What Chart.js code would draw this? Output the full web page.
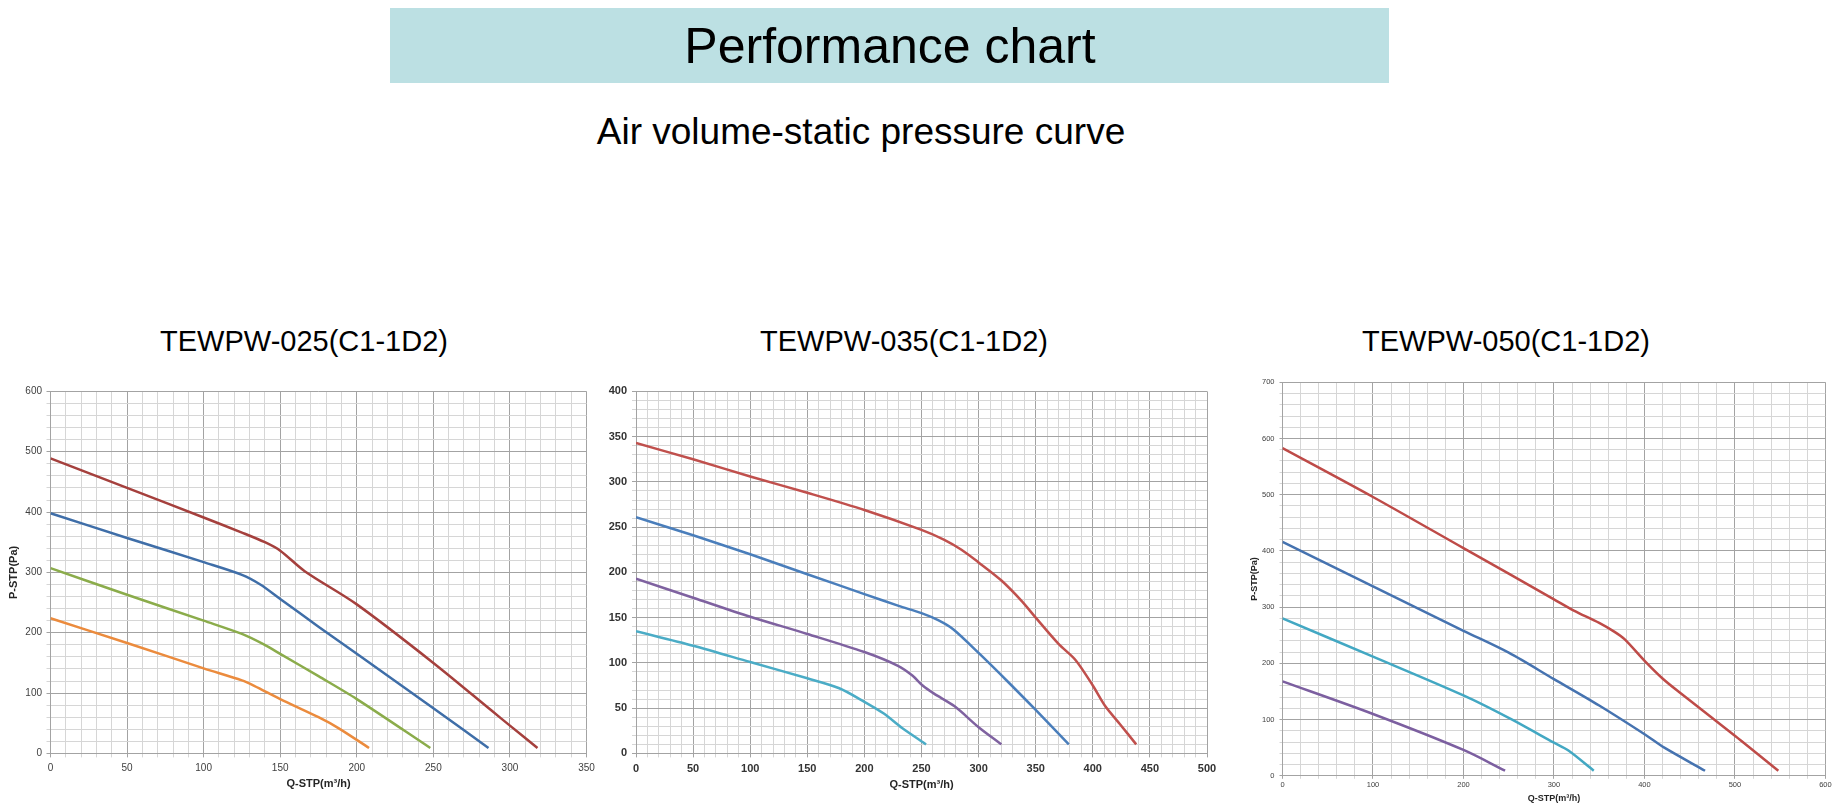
<!DOCTYPE html>
<html lang="en">

<head>
    <meta charset="UTF-8">
    <meta name="viewport" content="width=device-width, initial-scale=1.0">
    <script src="https://cdn.jsdelivr.net/npm/chart.js"></script>
    <title>Performance chart</title>
    <style>
        body {
            margin: 0;
            width: 1843px;
            height: 810px;
            position: relative;
            overflow: hidden;
            background: #fff;
            font-family: "Liberation Sans", Arial, sans-serif;
        }

        .faixa {
            position: absolute;
            left: 390px;
            top: 8px;
            width: 999px;
            height: 75px;
            background: #bce0e3;
        }

        .texto {
            position: absolute;
            width: 700px;
            text-align: center;
            line-height: 1;
            color: #000;
            white-space: nowrap;
        }

        canvas {
            position: absolute;
        }
    </style>
</head>

<body>

    <!-- HEADER -->
    <div class="faixa"></div>
    <div class="texto" style="left:540px; top:21px; font-size:50px;">Performance chart</div>
    <div class="texto" style="left:511px; top:113px; font-size:37px;">Air volume-static pressure curve</div>

    <!-- titulos dos graficos -->
    <div class="texto" style="left:-46px; top:327px; font-size:29px;">TEWPW-025(C1-1D2)</div>
    <div class="texto" style="left:554px; top:327px; font-size:29px;">TEWPW-035(C1-1D2)</div>
    <div class="texto" style="left:1156px; top:327px; font-size:29px;">TEWPW-050(C1-1D2)</div>

    <canvas id="g025" width="600" height="430" style="left:0px; top:370px;"></canvas>
    <canvas id="g035" width="640" height="430" style="left:590px; top:370px;"></canvas>
    <canvas id="g050" width="603" height="450" style="left:1240px; top:360px;"></canvas>

</body>

</html>

<script>

    // TEWPW-025 : Q (m3/h) x P (Pa)
    var q025Vermelho = [0, 50, 100, 125, 140, 150, 166, 200, 250, 288, 300, 318];
    var p025Vermelho = [489, 440, 391, 366, 350, 336, 302, 247, 150, 71, 46, 9];
    var q025Azul = [0, 50, 100, 125, 137, 150, 175, 200, 250, 286];
    var p025Azul = [398, 357, 317, 296, 280, 256, 210, 165, 75, 9];
    var q025Verde = [0, 50, 100, 125, 139, 150, 175, 200, 248];
    var p025Verde = [307, 263, 220, 198, 181, 165, 128, 90, 9];
    var q025Laranja = [0, 50, 100, 125, 133, 150, 175, 188, 208];
    var p025Laranja = [224, 183, 141, 121, 112, 90, 60, 42, 9];

    // TEWPW-035
    var q035Vermelho = [0, 50, 100, 150, 200, 250, 270, 285, 300, 320, 338, 350, 370, 385, 400, 411, 424, 438];
    var p035Vermelho = [343, 325, 306, 288, 269, 247, 236, 225, 211, 191, 168, 150, 121, 103, 75, 52, 32, 10];
    var q035Azul = [0, 50, 100, 150, 200, 230, 250, 265, 278, 300, 325, 350, 379];
    var p035Azul = [261, 241, 220, 198, 176, 163, 155, 147, 137, 111, 80, 48, 10];
    var q035Roxo = [0, 50, 100, 150, 200, 229, 242, 251, 261, 279, 300, 320];
    var p035Roxo = [193, 172, 151, 132, 112, 97, 86, 75, 66, 52, 29, 10];
    var q035Ciano = [0, 50, 100, 150, 178, 200, 217, 233, 254];
    var p035Ciano = [135, 119, 101, 83, 72, 57, 44, 28, 10];

    // TEWPW-050
    var q050Vermelho = [0, 100, 200, 300, 322, 350, 367, 378, 401, 420, 439, 501, 548];
    var p050Vermelho = [583, 496, 405, 314, 294, 272, 256, 243, 203, 173, 148, 70, 9];
    var q050Azul = [0, 100, 200, 250, 300, 350, 401, 422, 467];
    var p050Azul = [416, 337, 258, 219, 172, 125, 73, 50, 9];
    var q050Ciano = [0, 100, 200, 250, 300, 316, 344];
    var p050Ciano = [280, 212, 143, 103, 59, 45, 9];
    var q050Roxo = [0, 100, 200, 246];
    var p050Roxo = [168, 110, 46, 9];

    var corForte = '#a3a3a3';
    var corFraca = '#d6d6d6';

    function pontos(q, p) {
        var lista = [];
        for (var i = 0; i < q.length; i++) {
            lista.push({ x: q[i], y: p[i] });
        }
        return lista;
    }

    function serie(q, p, cor) {
        return {
            data: pontos(q, p),
            borderColor: cor,
            backgroundColor: cor,
            borderWidth: 2.5,
            showLine: true,
            pointRadius: 0,
            tension: 0.3
        };
    }

    // eixo com linhas finas (passo) e fortes (principal)
    function eixo(o) {
        return {
            type: 'linear',
            min: 0,
            max: o.max,
            afterFit: function (scale) {
                if (o.largura) scale.width = o.largura;
                if (o.altura) scale.height = o.altura;
            },
            border: { color: corForte, width: 1 },
            grid: {
                color: function (c) { return c.tick && c.tick.value % o.principal === 0 ? corForte : corFraca; },
                tickColor: function (c) { return c.tick && c.tick.value % o.principal === 0 ? corForte : corFraca; },
                tickLength: o.marca,
                lineWidth: 1
            },
            ticks: {
                stepSize: o.passo,
                autoSkip: false,
                maxRotation: 0,
                maxTicksLimit: 1000,
                padding: o.pad,
                color: o.corTexto || '#404040',
                font: { family: 'Liberation Sans', size: o.fonte, weight: o.peso || 'normal' },
                callback: function (v) { return v % o.principal === 0 ? v : ''; }
            },
            title: {
                display: !!o.titulo,
                text: o.titulo,
                color: '#262626',
                font: { family: 'Liberation Sans', size: o.fonteTitulo, weight: 'bold' },
                padding: o.padTitulo
            }
        };
    }

    function gerarGrafico(id, series, x, y, padding) {
        new Chart(document.getElementById(id), {
            type: 'scatter',
            data: { datasets: series },
            options: {
                responsive: false,
                animation: false,
                devicePixelRatio: 1,
                layout: { padding: padding },
                plugins: { legend: { display: false }, tooltip: { enabled: false } },
                scales: { x: x, y: y }
            }
        });
    }

    gerarGrafico('g025', [
        serie(q025Vermelho, p025Vermelho, '#a5403d'),
        serie(q025Azul, p025Azul, '#3f6ea8'),
        serie(q025Verde, p025Verde, '#8bac4b'),
        serie(q025Laranja, p025Laranja, '#eb8b3d')
    ],
        eixo({ max: 350, passo: 10, principal: 50, marca: 4, pad: 5, fonte: 10, altura: 46.6,
            titulo: 'Q-STP(m³/h)', fonteTitulo: 11, padTitulo: { top: 0, bottom: 9.4 } }),
        eixo({ max: 600, passo: 20, principal: 100, marca: 4, pad: 4.5, fonte: 10, largura: 50.5,
            titulo: 'P-STP(Pa)', fonteTitulo: 11, padTitulo: { top: 7.4, bottom: 0 } }),
        { left: 0, top: 21.4, right: 13.5, bottom: 0 });

    gerarGrafico('g035', [
        serie(q035Vermelho, p035Vermelho, '#c0504d'),
        serie(q035Azul, p035Azul, '#4a7ebb'),
        serie(q035Roxo, p035Roxo, '#7f62a0'),
        serie(q035Ciano, p035Ciano, '#4bacc6')
    ],
        eixo({ max: 500, passo: 10, principal: 50, marca: 4, pad: 4.5, fonte: 11, peso: 'bold', corTexto: '#333', altura: 46.6,
            titulo: 'Q-STP(m³/h)', fonteTitulo: 11, padTitulo: { top: 0, bottom: 8.4 } }),
        eixo({ max: 400, passo: 10, principal: 50, marca: 4, pad: 5, fonte: 11, peso: 'bold', corTexto: '#333', largura: 46 }),
        { left: 0, top: 21.4, right: 23, bottom: 0 });

    gerarGrafico('g050', [
        serie(q050Vermelho, p050Vermelho, '#be4b48'),
        serie(q050Azul, p050Azul, '#4673b0'),
        serie(q050Ciano, p050Ciano, '#43a8c3'),
        serie(q050Roxo, p050Roxo, '#7c5fa0')
    ],
        eixo({ max: 600, passo: 20, principal: 100, marca: 3, pad: 2, fonte: 7.5, altura: 34.2,
            titulo: 'Q-STP(m³/h)', fonteTitulo: 9, padTitulo: { top: 0, bottom: 5.6 } }),
        eixo({ max: 700, passo: 20, principal: 100, marca: 3, pad: 5, fonte: 7.5, largura: 42.5,
            titulo: 'P-STP(Pa)', fonteTitulo: 9, padTitulo: { top: 9.6, bottom: 0 } }),
        { left: 0, top: 22.3, right: 17.6, bottom: 0 });

</script>
